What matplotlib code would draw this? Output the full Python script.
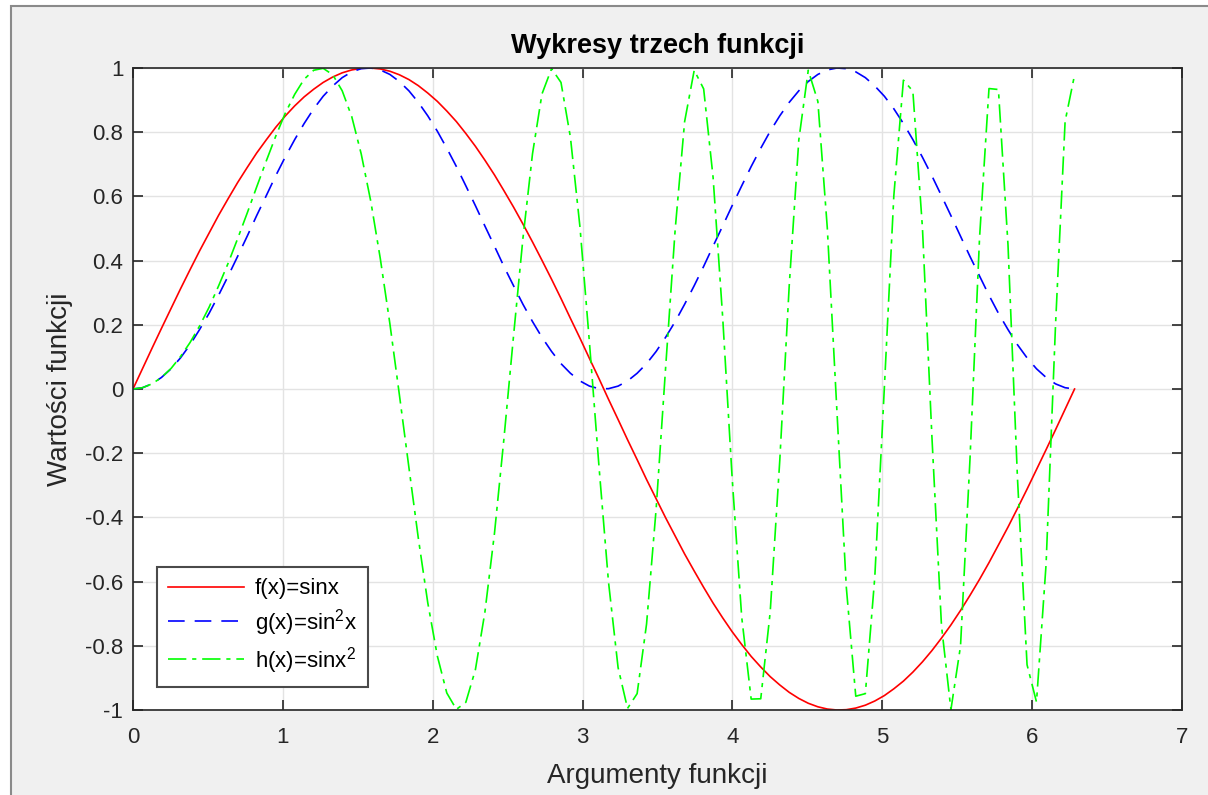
import numpy as np
import matplotlib.pyplot as plt
from matplotlib.patches import Rectangle

# sample points (100 points over 0..2pi)
x = [0.000, 0.063, 0.127, 0.190, 0.254, 0.317, 0.381, 0.444, 0.508, 0.571,
     0.635, 0.698, 0.762, 0.825, 0.889, 0.952, 1.015, 1.079, 1.142, 1.206,
     1.269, 1.333, 1.396, 1.460, 1.523, 1.587, 1.650, 1.714, 1.777, 1.841,
     1.904, 1.967, 2.031, 2.094, 2.158, 2.221, 2.285, 2.348, 2.412, 2.475,
     2.539, 2.602, 2.666, 2.729, 2.793, 2.856, 2.919, 2.983, 3.046, 3.110,
     3.173, 3.237, 3.300, 3.364, 3.427, 3.491, 3.554, 3.618, 3.681, 3.745,
     3.808, 3.871, 3.935, 3.998, 4.062, 4.125, 4.189, 4.252, 4.316, 4.379,
     4.443, 4.506, 4.570, 4.633, 4.697, 4.760, 4.823, 4.887, 4.950, 5.014,
     5.077, 5.141, 5.204, 5.268, 5.331, 5.395, 5.458, 5.522, 5.585, 5.649,
     5.712, 5.775, 5.839, 5.902, 5.966, 6.029, 6.093, 6.156, 6.220, 6.283]

f_vals = [0.000, 0.063, 0.127, 0.189, 0.251, 0.312, 0.372, 0.430, 0.486, 0.541,
          0.593, 0.643, 0.690, 0.735, 0.776, 0.815, 0.850, 0.882, 0.910, 0.934,
          0.955, 0.972, 0.985, 0.994, 0.999, 1.000, 0.997, 0.990, 0.979, 0.964,
          0.945, 0.922, 0.896, 0.866, 0.833, 0.796, 0.756, 0.713, 0.667, 0.618,
          0.567, 0.514, 0.458, 0.401, 0.342, 0.282, 0.220, 0.158, 0.095, 0.032,
          -0.032, -0.095, -0.158, -0.220, -0.282, -0.342, -0.401, -0.458, -0.514, -0.567,
          -0.618, -0.667, -0.713, -0.756, -0.796, -0.833, -0.866, -0.896, -0.922, -0.945,
          -0.964, -0.979, -0.990, -0.997, -1.000, -0.999, -0.994, -0.985, -0.972, -0.955,
          -0.934, -0.910, -0.882, -0.850, -0.815, -0.776, -0.735, -0.690, -0.643, -0.593,
          -0.541, -0.486, -0.430, -0.372, -0.312, -0.251, -0.189, -0.127, -0.063, 0.000]

g_vals = [0.000, 0.004, 0.016, 0.036, 0.063, 0.097, 0.138, 0.185, 0.236, 0.292,
          0.352, 0.413, 0.476, 0.540, 0.602, 0.664, 0.722, 0.777, 0.827, 0.873,
          0.912, 0.944, 0.970, 0.988, 0.998, 1.000, 0.994, 0.980, 0.958, 0.929,
          0.893, 0.851, 0.803, 0.750, 0.693, 0.633, 0.571, 0.508, 0.445, 0.382,
          0.322, 0.264, 0.210, 0.161, 0.117, 0.079, 0.049, 0.025, 0.009, 0.001,
          0.001, 0.009, 0.025, 0.049, 0.079, 0.117, 0.161, 0.210, 0.264, 0.322,
          0.382, 0.445, 0.508, 0.571, 0.633, 0.693, 0.750, 0.803, 0.851, 0.893,
          0.929, 0.958, 0.980, 0.994, 1.000, 0.998, 0.988, 0.970, 0.944, 0.912,
          0.873, 0.827, 0.777, 0.722, 0.664, 0.602, 0.540, 0.476, 0.413, 0.352,
          0.292, 0.236, 0.185, 0.138, 0.097, 0.063, 0.036, 0.016, 0.004, 0.000]

h_vals = [0.000, 0.004, 0.016, 0.036, 0.064, 0.101, 0.145, 0.196, 0.255, 0.321,
          0.392, 0.468, 0.548, 0.629, 0.710, 0.787, 0.858, 0.918, 0.965, 0.993,
          0.999, 0.979, 0.929, 0.848, 0.732, 0.584, 0.407, 0.204, -0.016, -0.244,
          -0.465, -0.666, -0.832, -0.947, -0.998, -0.976, -0.874, -0.696, -0.450, -0.156,
          0.164, 0.469, 0.733, 0.919, 0.998, 0.955, 0.784, 0.503, 0.144, -0.244,
          -0.601, -0.868, -0.995, -0.949, -0.732, -0.373, 0.065, 0.497, 0.833, 0.993,
          0.935, 0.659, 0.223, -0.276, -0.711, -0.966, -0.965, -0.695, -0.222, 0.322,
          0.776, 0.993, 0.896, 0.502, -0.066, -0.618, -0.957, -0.949, -0.586, 0.006,
          0.602, 0.962, 0.928, 0.502, -0.147, -0.737, -0.999, -0.801, -0.221, 0.471,
          0.936, 0.933, 0.448, -0.277, -0.859, -0.975, -0.546, 0.199, 0.834, 0.978]

legend_labels = ['f(x)=sinx', r'g(x)=sin$^{2}$x', r'h(x)=sinx$^{2}$']
xticks = [0, 1, 2, 3, 4, 5, 6, 7]
yticks = [-1, -0.8, -0.6, -0.4, -0.2, 0, 0.2, 0.4, 0.6, 0.8, 1]
ytick_labels = ['-1', '-0.8', '-0.6', '-0.4', '-0.2', '0', '0.2', '0.4', '0.6', '0.8', '1']

plt.rcParams['font.family'] = ['Liberation Sans', 'DejaVu Sans']
plt.rcParams['mathtext.fontset'] = 'custom'
plt.rcParams['mathtext.rm'] = 'Liberation Sans'

W, H = 1208, 795
fig = plt.figure(figsize=(W / 100, H / 100), dpi=100)
fig.patch.set_facecolor('white')
# matlab window background
win = Rectangle((11 / W, -0.01), 1.1, (H - 6) / H + 0.01, transform=fig.transFigure,
                facecolor='#f0f0f0', edgecolor='#8a8a8a', linewidth=1.5, zorder=-10)
fig.patches.append(win)

ax = fig.add_axes([133 / W, 1 - 710 / H, (1182 - 133) / W, (710 - 68) / H])
ax.set_facecolor('white')

ax.plot(x, f_vals, color='#ff0000', linewidth=1.2, label=legend_labels[0])
ax.plot(x, g_vals, color='#0000ff', linewidth=1.2, dashes=(10, 6), label=legend_labels[1])
ax.plot(x, h_vals, color='#00ff00', linewidth=1.2, dashes=(11, 3.5, 2.5, 3.5), label=legend_labels[2])

ax.set_xlim(0, 7)
ax.set_ylim(-1, 1)
ax.set_xticks(xticks)
ax.set_yticks(yticks)
ax.set_yticklabels(ytick_labels)
ax.grid(True, color='#e3e3e3', linewidth=1.0)
ax.set_axisbelow(True)
ax.tick_params(direction='in', length=7, width=1.2, colors='#262626', labelsize=16,
               top=True, right=True)
ax.tick_params(axis='x', pad=12)
ax.tick_params(axis='y', pad=7)
for s in ax.spines.values():
    s.set_color('#262626')
    s.set_linewidth(1.2)

ax.set_title('Wykresy trzech funkcji', fontsize=19.5, fontweight='bold', color='black', pad=11)
ax.set_xlabel('Argumenty funkcji', fontsize=20, color='#262626', labelpad=11)
ax.set_ylabel('Wartości funkcji', fontsize=20, color='#262626', labelpad=9)

leg = ax.legend(loc='lower left', bbox_to_anchor=(0.023, 0.036), borderaxespad=0,
                fontsize=16, handlelength=3.4, handletextpad=0.5, fancybox=False,
                framealpha=1, edgecolor='#4a4a4a', borderpad=0.5, labelspacing=0.33)
leg.get_frame().set_linewidth(1.5)

fig.savefig('out.png', dpi=100, facecolor=fig.get_facecolor())
